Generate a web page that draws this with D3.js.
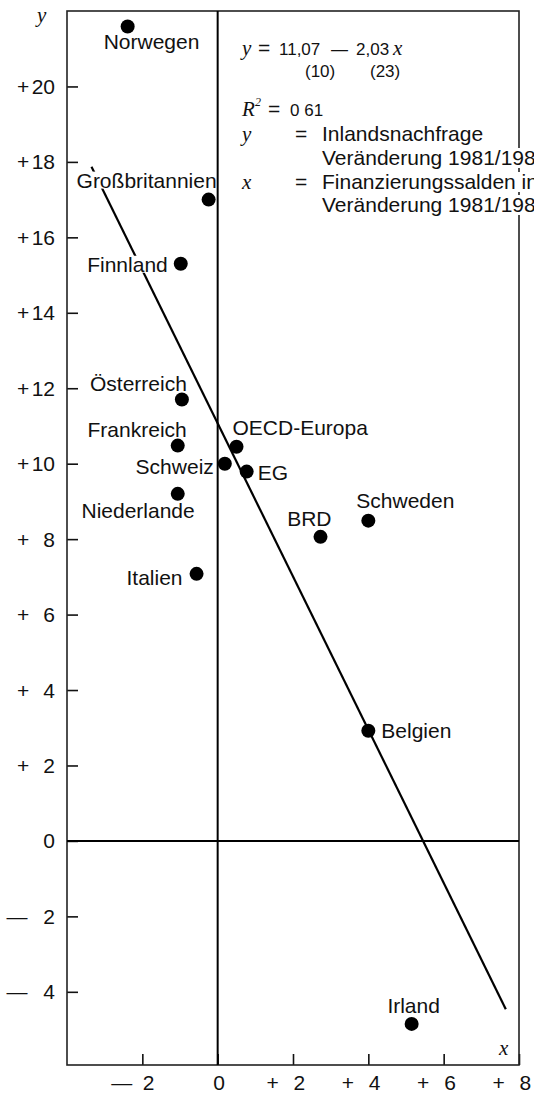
<!DOCTYPE html>
<html>
<head>
<meta charset="utf-8">
<script src="https://cdn.jsdelivr.net/npm/d3@7"></script>
<style>
body { margin: 0; background: #fff; }
text { font-family: "Liberation Sans", Arial, sans-serif; fill: #111; }
.ital { font-family: "Liberation Serif", "DejaVu Serif", serif; font-style: italic; }
</style>
</head>
<body>
<div class="visHolder"></div>
<script>
// values
var countries = ["Norwegen", "Großbritannien", "Finnland", "Österreich", "Frankreich", "OECD-Europa",
    "Schweiz", "EG", "Niederlande", "BRD", "Schweden", "Italien", "Belgien", "Irland"]
var xValues = [-2.39, -0.24, -0.98, -0.95, -1.06, 0.50, 0.19, 0.77, -1.06, 2.73, 4.00, -0.56, 4.00, 5.15]
var yValues = [21.59, 17.00, 15.30, 11.70, 10.48, 10.45, 10.00, 9.79, 9.20, 8.06, 8.49, 7.08, 2.92, -4.85]
var xTicks = [-2, 0, 2, 4, 6, 8]
var yTicks = [20, 18, 16, 14, 12, 10, 8, 6, 4, 2, 0, -2, -4]
var intercept = 11.07
var slope = -2.03
var lineRange = [-3.35, 7.65]

// where each country name sits next to its dot: anchor, dx, dy
var labelPlace = [["start", -24, 23], ["end", 8, -12], ["end", -13, 8], ["end", 5, -9], ["end", 9, -9],
    ["start", -4, -12], ["end", -11, 10], ["start", 11, 8], ["end", 17, 24], ["end", 11, -11],
    ["start", -12, -13], ["end", -14, 11], ["start", 13, 7], ["middle", 2, -11]]

var width = 534
var height = 1093

var svg = d3.select(".visHolder").append("svg")
    .attr("width", width)
    .attr("height", height)

var xScale = d3.scaleLinear().domain([-4, 8]).range([67, 519])
var yScale = d3.scaleLinear().domain([-5.94, 22]).range([1065, 11])

function signOf(v) { return v > 0 ? "+" : (v < 0 ? "—" : "") }

// y axis, ticks pointing inward
var yAxis = svg.append("g")
    .attr("transform", "translate(67,0)")
    .call(d3.axisRight(yScale).tickValues(yTicks).tickSize(11).tickFormat(""))
yAxis.select(".domain").remove()
yAxis.selectAll(".tick line").attr("stroke", "#111").attr("stroke-width", 1.6)
yAxis.selectAll(".tick").each(function(d) {
    var g = d3.select(this)
    g.append("text").attr("x", d > 0 ? -44 : -50).attr("y", 7).attr("text-anchor", "middle")
        .style("font-size", "21px").text(signOf(d))
    g.append("text").attr("x", -12).attr("y", 7).attr("text-anchor", "end")
        .style("font-size", "21px").text(Math.abs(d))
})

// x axis, ticks pointing up
var xAxis = svg.append("g")
    .attr("transform", "translate(0,1065)")
    .call(d3.axisTop(xScale).tickValues(xTicks).tickSize(11).tickFormat(""))
xAxis.select(".domain").remove()
xAxis.selectAll(".tick line").attr("stroke", "#111").attr("stroke-width", 1.6)
xAxis.selectAll(".tick").each(function(d) {
    var g = d3.select(this)
    if (d == 0) {
        g.append("text").attr("x", 1).attr("y", 25).attr("text-anchor", "middle")
            .style("font-size", "21px").text("0")
        return
    }
    g.append("text").attr("x", -21).attr("y", 25).attr("text-anchor", "middle")
        .style("font-size", "21px").text(signOf(d))
    g.append("text").attr("x", 0).attr("y", 25).attr("text-anchor", "start")
        .style("font-size", "21px").text(Math.abs(d))
})

// regression line
svg.append("line")
    .attr("x1", xScale(lineRange[0])).attr("y1", yScale(intercept + slope * lineRange[0]))
    .attr("x2", xScale(lineRange[1])).attr("y2", yScale(intercept + slope * lineRange[1]))
    .attr("stroke", "#000").attr("stroke-width", 2.2)

// country labels with a white patch behind them (it hides the line)
var labels = svg.append("g")
countries.forEach(function(name, i) {
    var place = labelPlace[i]
    var t = labels.append("text")
        .attr("x", xScale(xValues[i]) + place[1])
        .attr("y", yScale(yValues[i]) + place[2])
        .attr("text-anchor", place[0])
        .style("font-size", "21px")
        .text(name)
    var b = t.node().getBBox()
    labels.insert("rect", "text")
        .attr("x", b.x - 1).attr("y", b.y + 3).attr("width", b.width + 2).attr("height", b.height - 6)
        .attr("fill", "#fff")
})

// frame and zero lines
svg.append("rect")
    .attr("x", xScale(-4)).attr("y", yScale(22))
    .attr("width", xScale(8) - xScale(-4)).attr("height", yScale(-5.94) - yScale(22))
    .attr("fill", "none").attr("stroke", "#222").attr("stroke-width", 1.6)
svg.append("line")
    .attr("x1", xScale(0)).attr("x2", xScale(0)).attr("y1", yScale(22)).attr("y2", yScale(-5.94))
    .attr("stroke", "#000").attr("stroke-width", 2)
svg.append("line")
    .attr("x1", xScale(-4)).attr("x2", xScale(8)).attr("y1", yScale(0)).attr("y2", yScale(0))
    .attr("stroke", "#000").attr("stroke-width", 2)

// axis letters
svg.append("text").attr("class", "ital").attr("x", 37).attr("y", 22).style("font-size", "21px").text("y")
svg.append("text").attr("class", "ital").attr("x", 499).attr("y", 1055).style("font-size", "21px").text("x")

svg.selectAll(".dot")
    .data(countries)
    .enter()
    .append("circle")
    .attr("class", "dot")
    .attr("cx", (d, i) => xScale(xValues[i]))
    .attr("cy", (d, i) => yScale(yValues[i]))
    .attr("r", 7)
    .attr("fill", "#000")

// legend block at the top right
var legend = svg.append("g")
var rows = [
    [[242, 55, "y", "ital", 21], [258, 55, "=", "", 21], [279, 55, "11,07", "", 17], [331, 55, "—", "", 17],
     [356, 55, "2,03", "", 17], [393, 55, "x", "ital", 21]],
    [[305, 77, "(10)", "", 17], [370, 77, "(23)", "", 17]],
    [[242, 116, "R", "ital", 21], [255, 106, "2", "ital", 12], [268, 116, "=", "", 21], [290, 116, "0 61", "", 17]],
    [[242, 141, "y", "ital", 21], [295, 141, "=", "", 21], [322, 141, "Inlandsnachfrage", "", 21]],
    [[322, 165, "Veränderung 1981/1982", "", 21]],
    [[242, 189, "x", "ital", 21], [295, 189, "=", "", 21], [322, 189, "Finanzierungssalden in", "", 21]],
    [[322, 212, "Veränderung 1981/1982", "", 21]]
]
rows.forEach(function(row) {
    row.forEach(function(p) {
        var t = legend.append("text")
            .attr("x", p[0]).attr("y", p[1])
            .attr("class", p[3])
            .style("font-size", p[4] + "px")
            .text(p[2])
        if (p[2].length > 5) {
            var b = t.node().getBBox()
            legend.insert("rect", "text")
                .attr("x", b.x - 2).attr("y", b.y + 2).attr("width", b.width + 4).attr("height", b.height - 3)
                .attr("fill", "#fff")
        }
    })
})
</script>
</body>
</html>
